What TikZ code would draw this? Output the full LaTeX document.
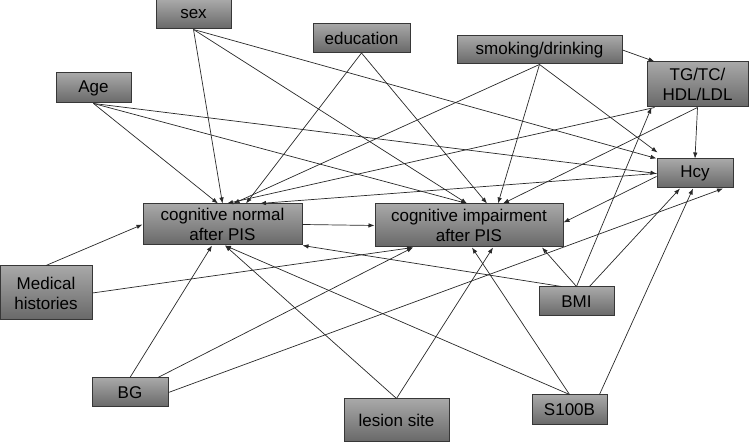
\documentclass[tikz,border=0pt]{standalone}
\usepackage{fontspec}
\setmainfont{Liberation Sans}
\usetikzlibrary{arrows.meta}
\definecolor{boxtop}{RGB}{168,168,168}
\definecolor{boxbot}{RGB}{104,104,104}
\definecolor{boxline}{RGB}{55,55,55}
\definecolor{edgecol}{RGB}{40,40,40}
\tikzset{
  box/.style={draw=boxline, line width=1pt, top color=boxtop, bottom color=boxbot,
    inner sep=0pt, align=center, font=\fontsize{17}{20}\selectfont, text=black},
  arr/.style={draw=edgecol, line width=0.7pt, -{Latex[length=6pt,width=4.5pt]}},
}
\begin{document}
\begin{tikzpicture}[x=1pt,y=1pt]
\useasboundingbox (0,0) rectangle (750,443);
\node[box, minimum width=75pt, minimum height=29pt] (sex) at (193.5,428.5) {sex};
\node[box, minimum width=97pt, minimum height=29pt] (edu) at (361.5,405) {education};
\node[box, minimum width=75pt, minimum height=30pt] (Age) at (93.5,355) {Age};
\node[box, minimum width=165pt, minimum height=28pt] (smk) at (539.5,393) {smoking/drinking};
\node[box, minimum width=101pt, minimum height=45pt] (TG) at (697.5,358.5) {TG/TC/\\HDL/LDL};
\node[box, minimum width=76pt, minimum height=29pt] (Hcy) at (695,269.5) {Hcy};
\node[box, minimum width=159pt, minimum height=41pt] (CN) at (222.5,218.5) {cognitive normal\\after PIS};
\node[box, minimum width=188pt, minimum height=43pt] (CI) at (469,217.5) {cognitive impairment\\after PIS};
\node[box, minimum width=92pt, minimum height=54pt] (Med) at (46,150) {Medical\\histories};
\node[box, minimum width=75pt, minimum height=29pt] (BMI) at (576.5,141.5) {BMI};
\node[box, minimum width=76pt, minimum height=29pt] (BG) at (130,50.5) {BG};
\node[box, minimum width=105pt, minimum height=43pt] (les) at (396.5,22.5) {lesion site};
\node[box, minimum width=75pt, minimum height=30pt] (S100B) at (569.5,33) {S100B};

\draw[arr] (sex.south) -- (CN.north);
\draw[arr] (sex.south) -- ([xshift=-2pt]CI.north);
\draw[arr] (sex.south) -- (Hcy.north west);
\draw[arr] (Age.south) -- ([xshift=-4.5pt]CN.north);
\draw[arr] (Age.south) -- ([xshift=-2pt]CI.north);
\draw[arr] (Age.south) -- (Hcy.west);
\draw[arr] (edu.south) -- ([xshift=23.5pt]CN.north);
\draw[arr] (edu.south) -- ([xshift=18pt]CI.north);
\draw[arr] (smk.south) -- ([xshift=11pt]CN.north);
\draw[arr] (smk.south) -- ([xshift=29pt]CI.north);
\draw[arr] (smk.south) -- ([xshift=1pt,yshift=6pt]Hcy.north west);
\draw[arr] (smk.east) -- ([xshift=8pt]TG.north west);
\draw[arr] (TG.south) -- (Hcy.north);
\draw[arr] ([xshift=8pt]TG.south west) -- ([xshift=4.5pt]CN.north);
\draw[arr] (TG.south) -- ([xshift=34pt]CI.north);
\draw[arr] (Hcy.west) -- ([xshift=37.5pt]CN.north);
\draw[arr] ([yshift=-3pt]Hcy.west) -- ([yshift=3pt]CI.east);
\draw[arr] (CN.east) -- (CI.west);
\draw[arr] (Med.north) -- (CN.west);
\draw[arr] (Med.east) -- ([xshift=-56pt]CI.south);
\draw[arr] (BG.north) -- ([xshift=-10.5pt]CN.south);
\draw[arr] ([xshift=28pt]BG.north) -- ([xshift=-56pt]CI.south);
\draw[arr] (BG.east) -- ([xshift=28pt]Hcy.south);
\draw[arr] (les.north) -- ([xshift=2.5pt]CN.south);
\draw[arr] (les.north) -- ([xshift=24pt]CI.south);
\draw[arr] (S100B.north) -- ([xshift=2.5pt]CN.south);
\draw[arr] (S100B.north) -- ([xshift=3pt]CI.south);
\draw[arr] ([xshift=30pt]S100B.north) -- ([xshift=-2pt]Hcy.south);
\draw[arr] ([xshift=-15pt]BMI.north) -- (CN.south east);
\draw[arr] (BMI.north) -- ([xshift=73pt]CI.south);
\draw[arr] (BMI.north) -- ([xshift=5pt]TG.south west);
\draw[arr] ([xshift=13pt]BMI.north) -- ([xshift=-15pt]Hcy.south);
\end{tikzpicture}
\end{document}
